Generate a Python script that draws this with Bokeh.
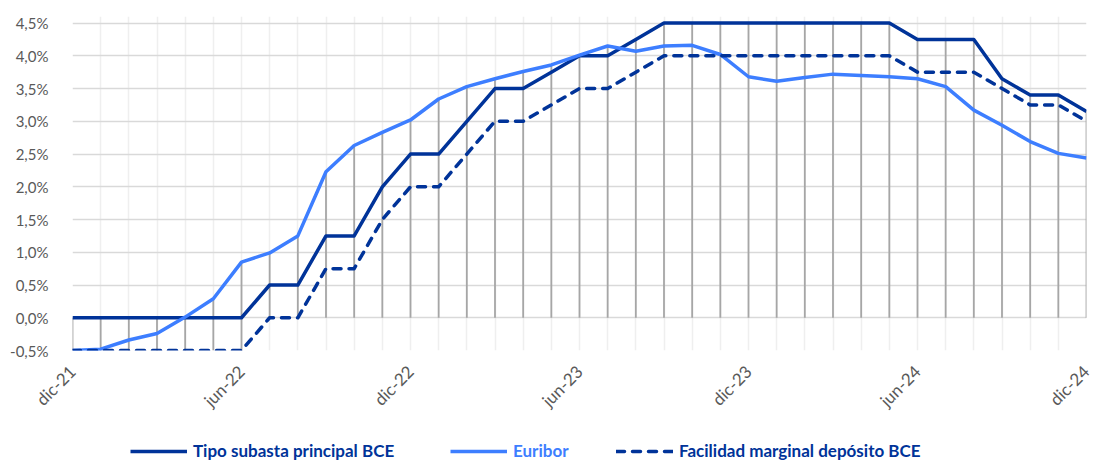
import math
from bokeh.plotting import figure
from bokeh.layouts import column
from bokeh.models import (Range1d, FixedTicker, Legend, LegendItem, ColumnDataSource)
from bokeh.embed import file_html
from bokeh.resources import INLINE

# ---------------- data ----------------
months = ["dic-21", "ene-22", "feb-22", "mar-22", "abr-22", "may-22", "jun-22",
          "jul-22", "ago-22", "sep-22", "oct-22", "nov-22", "dic-22",
          "ene-23", "feb-23", "mar-23", "abr-23", "may-23", "jun-23",
          "jul-23", "ago-23", "sep-23", "oct-23", "nov-23", "dic-23",
          "ene-24", "feb-24", "mar-24", "abr-24", "may-24", "jun-24",
          "jul-24", "ago-24", "sep-24", "oct-24", "nov-24", "dic-24"]

tipo_subasta = [0, 0, 0, 0, 0, 0, 0, 0.5, 0.5, 1.25, 1.25, 2.0, 2.5, 2.5, 3.0,
                3.5, 3.5, 3.75, 4.0, 4.0, 4.25, 4.5, 4.5, 4.5, 4.5, 4.5, 4.5,
                4.5, 4.5, 4.5, 4.25, 4.25, 4.25, 3.65, 3.40, 3.40, 3.15]

euribor = [-0.50, -0.48, -0.34, -0.24, 0.01, 0.29, 0.85, 0.99, 1.25, 2.23,
           2.63, 2.83, 3.02, 3.34, 3.53, 3.65, 3.76, 3.86, 4.01, 4.15, 4.07,
           4.15, 4.16, 4.02, 3.68, 3.61, 3.67, 3.72, 3.70, 3.68, 3.65, 3.53,
           3.17, 2.94, 2.69, 2.51, 2.44]

deposito = [-0.5, -0.5, -0.5, -0.5, -0.5, -0.5, -0.5, 0.0, 0.0, 0.75, 0.75,
            1.5, 2.0, 2.0, 2.5, 3.0, 3.0, 3.25, 3.5, 3.5, 3.75, 4.0, 4.0, 4.0,
            4.0, 4.0, 4.0, 4.0, 4.0, 4.0, 3.75, 3.75, 3.75, 3.5, 3.25, 3.25,
            3.0]

y_ticks = [-0.5, 0.0, 0.5, 1.0, 1.5, 2.0, 2.5, 3.0, 3.5, 4.0, 4.5]
y_tick_labels = ["-0,5%", "0,0%", "0,5%", "1,0%", "1,5%", "2,0%", "2,5%",
                 "3,0%", "3,5%", "4,0%", "4,5%"]
label_every = 6

series_names = ["Tipo subasta principal BCE", "Euribor",
                "Facilidad marginal depósito BCE"]

# ---------------- styles ----------------
NAVY = "#003399"
BRIGHT = "#3D7EFF"
FONT = "Lato"
LABEL_COLOR = "#595959"
W = 1093

x = list(range(len(months)))

p = figure(width=W, height=438, output_backend="svg", toolbar_location=None,
           x_range=Range1d(0, len(months) - 1), y_range=Range1d(-0.5, 4.6),
           min_border_left=72, min_border_right=7, min_border_top=16,
           min_border_bottom=88)
p.outline_line_color = None
p.background_fill_color = "white"
p.border_fill_color = "white"

# grids
p.xgrid.ticker = FixedTicker(ticks=x)
p.xgrid.grid_line_color = "#EFEFEF"
p.xgrid.grid_line_width = 1.5
p.ygrid.ticker = FixedTicker(ticks=y_ticks)
p.ygrid.grid_line_color = "#D9D9D9"
p.ygrid.grid_line_width = 1.5

# axes
p.yaxis.ticker = FixedTicker(ticks=y_ticks)
p.yaxis.major_label_overrides = {t: l for t, l in zip(y_ticks, y_tick_labels)}
p.yaxis.axis_line_color = None
p.yaxis.major_tick_line_color = None
p.yaxis.minor_tick_line_color = None
p.yaxis.major_label_text_font = FONT
p.yaxis.major_label_text_font_size = "15px"
p.yaxis.major_label_text_color = LABEL_COLOR
p.yaxis.major_label_standoff = 18

xt = x[::label_every]
p.xaxis.ticker = FixedTicker(ticks=xt)
p.xaxis.major_label_overrides = {i: months[i] for i in xt}
p.xaxis.axis_line_color = None
p.xaxis.major_tick_line_color = None
p.xaxis.minor_tick_line_color = None
p.xaxis.major_label_orientation = math.pi / 4
p.xaxis.major_label_text_font = FONT
p.xaxis.major_label_text_font_size = "17px"
p.xaxis.major_label_text_color = LABEL_COLOR
p.xaxis.major_label_standoff = 12

# drop lines (from each series to the axis at 0)
lows = [min(0, a, b, c) for a, b, c in zip(tipo_subasta, euribor, deposito)]
highs = [max(0, a, b, c) for a, b, c in zip(tipo_subasta, euribor, deposito)]
p.segment(x0=x, y0=lows, x1=x, y1=highs, line_color="#A6A6A6", line_width=1.8)

src = ColumnDataSource(dict(x=x, tipo=tipo_subasta, eur=euribor, dep=deposito))
styles = [dict(line_color=NAVY, line_width=3.5, line_join="round"),
          dict(line_color=BRIGHT, line_width=3.5, line_join="round"),
          dict(line_color=NAVY, line_width=3.5, line_dash="8 8",
               line_cap="round", line_join="round")]
p.line("x", "tipo", source=src, **styles[0])
p.line("x", "eur", source=src, **styles[1])
p.line("x", "dep", source=src, **styles[2])

# ---------------- legend strip ----------------
lg_fig = figure(width=W, height=23, output_backend="svg", toolbar_location=None,
                x_axis_type=None, y_axis_type=None,
                x_range=Range1d(0, 1), y_range=Range1d(0, 1),
                min_border=0, min_border_left=0, min_border_right=0,
                min_border_top=0, min_border_bottom=0)
lg_fig.grid.visible = False
lg_fig.outline_line_color = None

# offsets relative to the (aligned) plot frame
legend_x = [58, 378, 544]
legend_colors = [NAVY, BRIGHT, NAVY]
for name, st, col, lx in zip(series_names, styles, legend_colors, legend_x):
    # single-point proxy line (draws nothing itself), only used by the legend
    r = lg_fig.line(x=[-1], y=[-1], **st)
    lg = Legend(items=[LegendItem(label=name, renderers=[r])],
                location=(lx, 0), orientation="horizontal",
                border_line_color=None, background_fill_alpha=0,
                padding=0, margin=0, spacing=0,
                glyph_width=57, glyph_height=18, label_height=18,
                label_standoff=6,
                label_text_font=FONT, label_text_font_size="17px",
                label_text_font_style="bold", label_text_color=col)
    lg_fig.add_layout(lg, "center")

layout = column(p, lg_fig, spacing=0)
open("out.html", "w").write(file_html(layout, INLINE))
